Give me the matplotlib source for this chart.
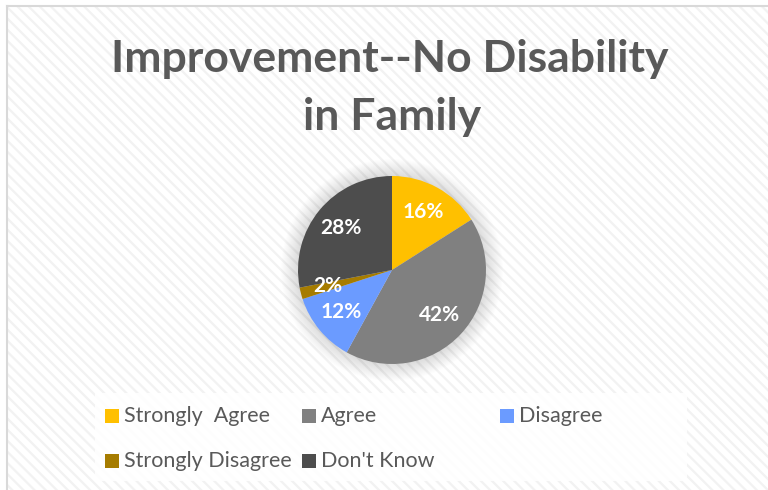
import matplotlib
matplotlib.use("Agg")
import matplotlib.pyplot as plt
from matplotlib.patches import Rectangle, Circle

# Survey responses
categories = ["Strongly  Agree", "Agree", "Disagree", "Strongly Disagree", "Don't Know"]
shares = [16, 42, 12, 2, 28]
colors = ["#FFC000", "#808080", "#6B9BFF", "#A67C00", "#4D4D4D"]
title_lines = ["Improvement--No Disability", "in Family"]

W, H = 768, 490
plt.rcParams['font.family'] = ['Lato', 'DejaVu Sans']
plt.rcParams['hatch.linewidth'] = 1.6

fig = plt.figure(figsize=(W / 100, H / 100), dpi=100)
ax = fig.add_axes([0, 0, 1, 1])


def Y(y):
    """Convert a top-down pixel row to the axes' bottom-up coordinate."""
    return H - y


# striped chart area with a thin border on the left and top
ax.add_patch(Rectangle((7, 0), W - 7, Y(6), facecolor='white',
                       edgecolor='#f2f2f2', hatch='\\\\\\', lw=0, zorder=0))
ax.plot([7, 7], [0, Y(6)], color='#d9d9d9', lw=1.5, zorder=1)
ax.plot([7, W], [Y(6), Y(6)], color='#d9d9d9', lw=1.5, zorder=1)

# title
title_color = '#595959'
ax.text(390, Y(72), title_lines[0], ha='center', va='baseline',
        fontsize=32, fontweight='bold', color=title_color, zorder=5)
ax.text(392, Y(130), title_lines[1], ha='center', va='baseline',
        fontsize=32, fontweight='bold', color=title_color, zorder=5)

# soft glow behind the pie
cx, cy, r = 392, 270, 94
for k in range(1, 18):
    ax.add_patch(Circle((cx, Y(cy)), r + k, facecolor='black', edgecolor='none',
                        alpha=0.008, zorder=2))

wedges, texts, autotexts = ax.pie(
    shares, colors=colors, startangle=90, counterclock=False,
    center=(cx, Y(cy)), radius=r, autopct='%.0f%%', pctdistance=0.7,
    textprops=dict(color='white', fontsize=15, fontweight='bold'),
    wedgeprops=dict(linewidth=0), frame=True)
for w in wedges:
    w.set_zorder(3)
for t in autotexts:
    t.set_zorder(4)

# legend panel
ax.add_patch(Rectangle((95, Y(481)), 592, 88, facecolor='white', alpha=0.85,
                       lw=0, zorder=2))
slots = [(105, 409), (302, 409), (500, 409), (105, 454), (302, 454)]
box = 14
for (mx, my), label, col in zip(slots, categories, colors):
    ax.add_patch(Rectangle((mx, Y(my + box)), box, box, facecolor=col, lw=0, zorder=4))
    ax.text(mx + box + 5, Y(my + box / 2), label, ha='left', va='center',
            fontsize=15.5, color=title_color, zorder=5)

ax.set_xlim(0, W)
ax.set_ylim(0, H)
ax.set_aspect('auto')
ax.axis('off')

fig.savefig('out.png', dpi=100, facecolor='white')
